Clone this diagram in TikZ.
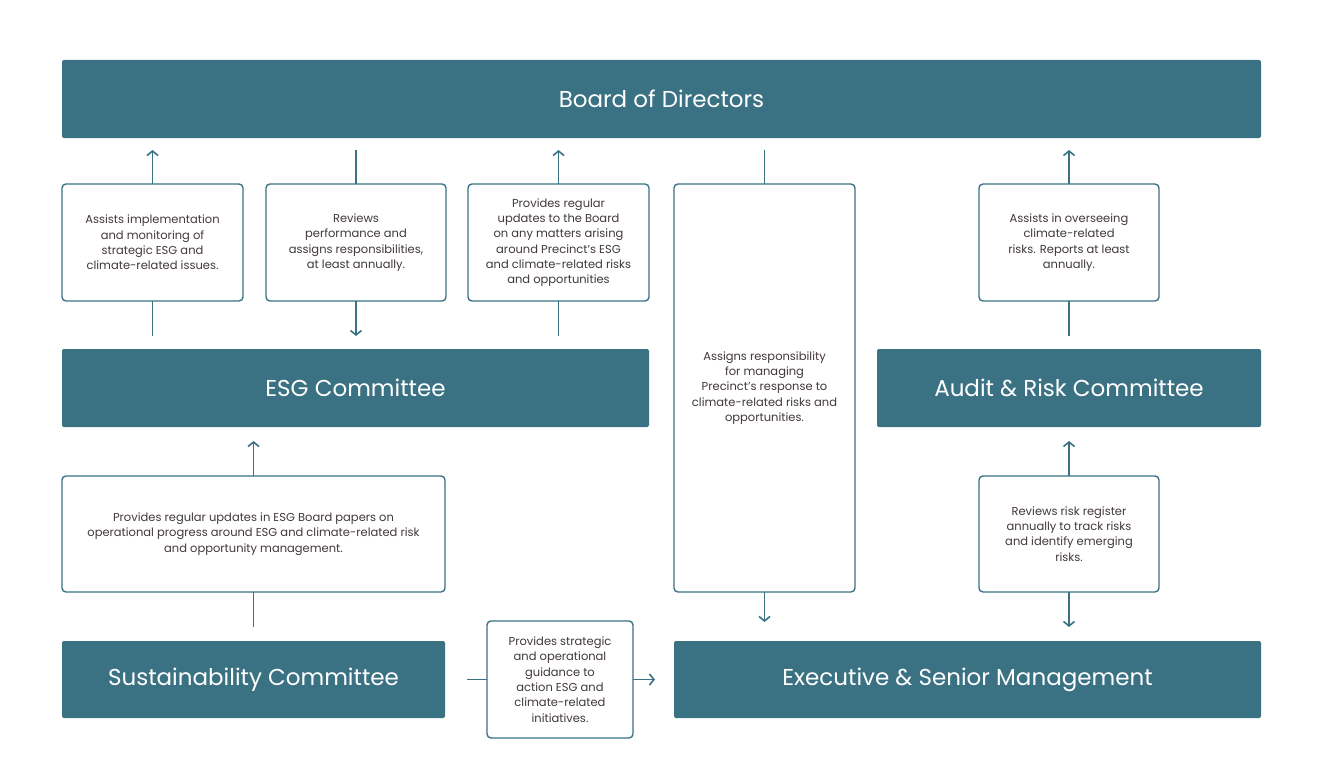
\documentclass[tikz,border=0pt]{standalone}
\usepackage{fontspec}
\setmainfont{Poppins}
\usetikzlibrary{arrows.meta}
\definecolor{boardteal}{RGB}{59,114,131}
\definecolor{notegrey}{RGB}{66,56,56}

\begin{document}
\begin{tikzpicture}[x=1pt,y=-1pt,
  bar/.style={fill=boardteal, rounded corners=2pt, text=white, inner sep=0pt, outer sep=0pt,
    font=\fontsize{23}{27}\selectfont},
  note/.style={draw=boardteal, line width=1.4pt, fill=white, rounded corners=4pt, inner sep=0pt,
    outer sep=0pt, align=center, text=notegrey, font=\fontsize{11.5}{15.3}\selectfont},
  link/.style={draw=boardteal, line width=1.6pt},
  tip/.style={-{Straight Barb[length=4.5pt,width=11pt]}}]
\useasboundingbox[fill=white] (0,0) rectangle (1322,784);

\node[bar, minimum width=1199pt, minimum height=78pt] (board) at (661.5,99) {Board of Directors};
\node[bar, minimum width=587pt, minimum height=78pt] (esg) at (355.5,388) {ESG Committee};
\node[bar, minimum width=384pt, minimum height=78pt] (audit) at (1069,388) {Audit \& Risk Committee};
\node[bar, minimum width=383pt, minimum height=77pt] (sust) at (253.5,679.5) {Sustainability Committee};
\node[bar, minimum width=587pt, minimum height=77pt] (exec) at (967.5,679.5) {Executive \& Senior Management};

\node[note, minimum width=181pt, minimum height=117pt] (assist) at (152.5,242.5)
  {Assists implementation\\and monitoring of\\strategic ESG and\\climate-related issues.};
\node[note, minimum width=180pt, minimum height=117pt] (review) at (356,242.5)
  {Reviews\\performance and\\assigns responsibilities,\\at least annually.};
\node[note, minimum width=181pt, minimum height=117pt] (update) at (558.5,242.5)
  {Provides regular\\updates to the Board\\on any matters arising\\around Precinct’s ESG\\and climate-related risks\\and opportunities};
\node[note, minimum width=181pt, minimum height=408pt] (assign) at (764.5,388)
  {Assigns responsibility\\for managing\\Precinct’s response to\\climate-related risks and\\opportunities.};
\node[note, minimum width=180pt, minimum height=117pt] (oversee) at (1069,242.5)
  {Assists in overseeing\\climate-related\\risks. Reports at least\\annually.};
\node[note, minimum width=383pt, minimum height=116pt] (papers) at (253.5,534)
  {Provides regular updates in ESG Board papers on\\operational progress around ESG and climate-related risk\\and opportunity management.};
\node[note, minimum width=180pt, minimum height=116pt] (register) at (1069,534)
  {Reviews risk register\\annually to track risks\\and identify emerging\\risks.};
\node[note, minimum width=146pt, minimum height=117pt] (guide) at (560,679.5)
  {Provides strategic\\and operational\\guidance to\\action ESG and\\climate-related\\initiatives.};

% links between the committees, through the notes
\draw[link,tip,shorten >=12pt] (assist.north) -- (assist.north |- board.south);
\draw[link,shorten >=13pt] (assist.south) -- (assist.south |- esg.north);
\draw[link,shorten <=12pt] (review.north |- board.south) -- (review.north);
\draw[link,tip,shorten >=13pt] (review.south) -- (review.south |- esg.north);
\draw[link,tip,shorten >=12pt] (update.north) -- (update.north |- board.south);
\draw[link,shorten >=13pt] (update.south) -- (update.south |- esg.north);
\draw[link,shorten <=12pt] (assign.north |- board.south) -- (assign.north);
\draw[link,tip,shorten >=19pt] (assign.south) -- (assign.south |- exec.north);
\draw[link,tip,shorten >=12pt] (oversee.north) -- (oversee.north |- board.south);
\draw[link,shorten >=13pt] (oversee.south) -- (oversee.south |- audit.north);
\draw[link,tip,shorten >=14pt] (papers.north) -- (papers.north |- esg.south);
\draw[link,shorten >=14pt] (papers.south) -- (papers.south |- sust.north);
\draw[link,tip,shorten >=14pt] (register.north) -- (register.north |- audit.south);
\draw[link,tip,shorten >=14pt] (register.south) -- (register.south |- exec.north);
\draw[link,shorten <=22pt] (sust.east) -- (guide.west);
\draw[link,tip,shorten >=19pt] (guide.east) -- (exec.west);
\end{tikzpicture}
\end{document}
